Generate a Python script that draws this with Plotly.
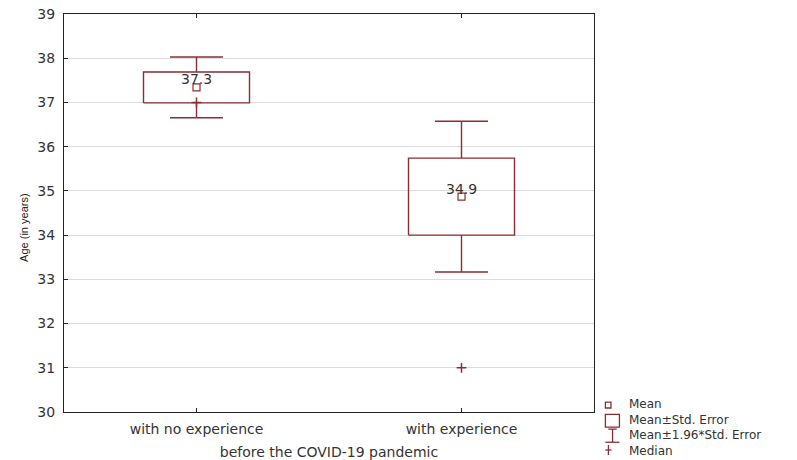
import plotly.graph_objects as go

# Age summary by prior experience (before the COVID-19 pandemic)
groups = ["with no experience", "with experience"]
means = [37.34, 34.87]
std_errors = [0.35, 0.87]
medians = [37.0, 31.0]
mean_labels = ["37.3", "34.9"]
legend_labels = ["Mean", "Mean±Std. Error", "Mean±1.96*Std. Error", "Median"]

RED = "#8B2E33"
TXT = "#333333"
FONT = "DejaVu Sans, Verdana, sans-serif"
FS = 14

xpos = list(range(len(groups)))
box_half = 0.2
cap_half = 0.1

fig = go.Figure()

for i, (m, se) in enumerate(zip(means, std_errors)):
    x = xpos[i]
    lo, hi = m - se, m + se
    wlo, whi = m - 1.96 * se, m + 1.96 * se
    # Mean ± Std. Error box
    fig.add_trace(go.Scatter(
        x=[x - box_half, x + box_half, x + box_half, x - box_half, x - box_half],
        y=[lo, lo, hi, hi, lo], mode="lines",
        line=dict(color=RED, width=1.4), showlegend=False, hoverinfo="skip"))
    # Mean ± 1.96*Std. Error whiskers with caps
    fig.add_trace(go.Scatter(
        x=[x, x, None, x, x, None, x - cap_half, x + cap_half, None, x - cap_half, x + cap_half],
        y=[hi, whi, None, lo, wlo, None, whi, whi, None, wlo, wlo], mode="lines",
        line=dict(color=RED, width=1.4), showlegend=False, hoverinfo="skip"))

# Mean markers
fig.add_trace(go.Scatter(
    x=xpos, y=means, mode="markers",
    marker=dict(symbol="square-open", size=7, color=RED, line=dict(width=1.2)),
    showlegend=False))
# Median markers
fig.add_trace(go.Scatter(
    x=xpos, y=medians, mode="markers",
    marker=dict(symbol="cross-thin", size=7, color=RED, line=dict(width=1.5, color=RED)),
    showlegend=False))
# Mean value labels
for x, m, lab in zip(xpos, means, mean_labels):
    fig.add_annotation(x=x, y=m, text=lab, showarrow=False, yshift=8,
                       font=dict(family=FONT, size=FS, color=TXT))

# Y-axis title
fig.add_annotation(xref="paper", yref="paper", x=-0.091, y=0.462, text="Age (in years)",
                   textangle=-90, showarrow=False,
                   font=dict(family="Liberation Sans Narrow, Liberation Sans, Arial, sans-serif",
                             size=11, color="#222222"))

# Legend drawn in paper space beside the plot
fig.add_annotation(xref="paper", yref="paper", x=1.0615, y=0.042, text="<br>".join(legend_labels),
                   showarrow=False, xanchor="left", yanchor="top", align="left",
                   font=dict(family=FONT, size=12, color=TXT))

lw = dict(color=RED, width=1.3)
shapes = [
    # small square (Mean)
    dict(type="rect", xref="paper", yref="paper", x0=1.0215, x1=1.0320, y0=0.0100, y1=0.0250, line=lw),
    # large square (Mean±SE)
    dict(type="rect", xref="paper", yref="paper", x0=1.0215, x1=1.0480, y0=-0.0380, y1=-0.0060, line=lw),
    # I-beam (Mean±1.96*SE)
    dict(type="line", xref="paper", yref="paper", x0=1.0350, x1=1.0350, y0=-0.0760, y1=-0.0430, line=lw),
    dict(type="line", xref="paper", yref="paper", x0=1.0215, x1=1.0480, y0=-0.0760, y1=-0.0760, line=lw),
    dict(type="line", xref="paper", yref="paper", x0=1.0270, x1=1.0430, y0=-0.0430, y1=-0.0430, line=lw),
    # plus (Median)
    dict(type="line", xref="paper", yref="paper", x0=1.0215, x1=1.0330, y0=-0.0955, y1=-0.0955, line=lw),
    dict(type="line", xref="paper", yref="paper", x0=1.0272, x1=1.0272, y0=-0.1080, y1=-0.0830, line=lw),
]
fig.update_layout(shapes=shapes)

fig.update_layout(
    width=797, height=460,
    margin=dict(l=64, r=203, t=14, b=48),
    paper_bgcolor="white", plot_bgcolor="white",
    font=dict(family=FONT, size=FS, color=TXT),
    xaxis=dict(
        range=[-0.5, 1.5], tickmode="array", tickvals=xpos, ticktext=groups,
        showgrid=False, zeroline=False, showline=True, linecolor="#222", linewidth=1.2,
        mirror="ticks", ticks="inside", ticklen=4, tickcolor="#222", automargin=False,
        tickfont=dict(family=FONT, size=FS, color=TXT), ticklabelstandoff=4,
        title=dict(text="before the COVID-19 pandemic",
                   font=dict(family=FONT, size=FS, color=TXT), standoff=12),
    ),
    yaxis=dict(
        range=[30, 39], dtick=1, tick0=30,
        showgrid=True, gridcolor="#dcdcdc", gridwidth=1, zeroline=False,
        showline=True, linecolor="#222", linewidth=1.2, mirror=True, automargin=False,
        ticks="inside", ticklen=4, tickcolor="#222",
        tickfont=dict(family=FONT, size=FS, color=TXT), ticklabelstandoff=5,
    ),
)

fig.write_html("out.html")
